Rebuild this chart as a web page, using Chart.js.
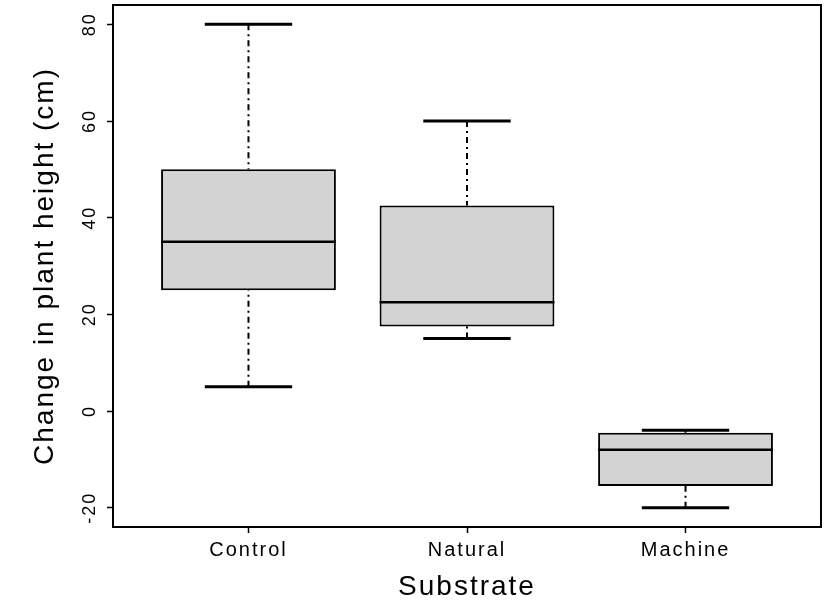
<!DOCTYPE html>
<html>
<head>
<meta charset="utf-8">
<script src="https://cdn.jsdelivr.net/npm/chart.js@4"></script>
<style>
  html, body { margin: 0; padding: 0; background: #fff; }
</style>
</head>
<body>
<canvas id="chartCanvas" width="833" height="606"></canvas>
<script>
// box plot summary per substrate
const substrates = ["Control", "Natural", "Machine"];
const whiskerLow = [5, 15, -20];
const quartile1 = [25, 17.5, -15.5];
const medians = [35, 22.5, -8];
const quartile3 = [50, 42.5, -4.5];
const whiskerHigh = [80, 60, -4];
const yTicks = [-20, 0, 20, 40, 60, 80];

const fontFamily = "'Liberation Sans', Arial, sans-serif";

// whiskers, staples, medians and the frame, all placed through the scales
const boxPlotLines = {
  id: "boxPlotLines",
  beforeUpdate(chart) {
    chart.ctx.letterSpacing = "2px";
  },
  beforeDraw(chart) {
    chart.ctx.letterSpacing = "2px";
  },
  afterDatasetsDraw(chart) {
    const { ctx } = chart;
    const x = chart.scales.x;
    const y = chart.scales.y;
    ctx.save();
    ctx.strokeStyle = "#000";
    ctx.lineCap = "butt";
    substrates.forEach((name, i) => {
      const pos = i + 1;
      const cx = x.getPixelForValue(pos);
      const capL = x.getPixelForValue(pos - 0.2);
      const capR = x.getPixelForValue(pos + 0.2);
      const boxL = x.getPixelForValue(pos - 0.4);
      const boxR = x.getPixelForValue(pos + 0.4);

      // dashed whiskers
      ctx.lineWidth = 2;
      ctx.setLineDash([6, 4, 2, 4]);
      ctx.beginPath();
      ctx.moveTo(cx, y.getPixelForValue(whiskerHigh[i]));
      ctx.lineTo(cx, y.getPixelForValue(quartile3[i]));
      ctx.moveTo(cx, y.getPixelForValue(whiskerLow[i]));
      ctx.lineTo(cx, y.getPixelForValue(quartile1[i]));
      ctx.stroke();
      ctx.setLineDash([]);

      // staples
      ctx.lineWidth = 3;
      ctx.beginPath();
      ctx.moveTo(capL, y.getPixelForValue(whiskerHigh[i]));
      ctx.lineTo(capR, y.getPixelForValue(whiskerHigh[i]));
      ctx.moveTo(capL, y.getPixelForValue(whiskerLow[i]));
      ctx.lineTo(capR, y.getPixelForValue(whiskerLow[i]));
      ctx.stroke();

      // median
      ctx.lineWidth = 2.5;
      ctx.beginPath();
      ctx.moveTo(boxL, y.getPixelForValue(medians[i]));
      ctx.lineTo(boxR, y.getPixelForValue(medians[i]));
      ctx.stroke();
    });
    ctx.restore();
  },
  afterDraw(chart) {
    const { ctx, chartArea: a } = chart;
    ctx.save();
    ctx.strokeStyle = "#000";
    ctx.lineWidth = 2;
    ctx.strokeRect(a.left, a.top, a.right - a.left, a.bottom - a.top);
    ctx.restore();
  },
};

const ctx = document.getElementById("chartCanvas").getContext("2d");

const chart = new Chart(ctx, {
  type: "bar",
  data: {
    datasets: [
      {
        data: substrates.map((s, i) => ({ x: i + 1, y: [quartile1[i], quartile3[i]] })),
        backgroundColor: "#d3d3d3",
        borderColor: "#000",
        borderWidth: 2,
        borderSkipped: false,
        categoryPercentage: 1,
        barPercentage: 0.8,
      },
    ],
  },
  options: {
    responsive: false,
    devicePixelRatio: 1,
    animation: false,
    layout: { padding: { top: 5, right: 12, left: 0, bottom: 0 } },
    plugins: {
      legend: { display: false },
      tooltip: { enabled: false },
    },
    scales: {
      x: {
        type: "linear",
        min: 0.38,
        max: 3.62,
        offset: false,
        afterBuildTicks: (scale) => {
          scale.ticks = substrates.map((s, i) => ({ value: i + 1 }));
        },
        afterFit: (scale) => {
          scale.height = 79;
          scale.paddingLeft = 0;
          scale.paddingRight = 0;
        },
        ticks: {
          callback: (v) => substrates[Math.round(v) - 1],
          color: "#000",
          padding: 5,
          maxRotation: 0,
          font: { family: fontFamily, size: 20 },
        },
        grid: {
          offset: false,
          drawOnChartArea: false,
          drawTicks: true,
          tickLength: 6,
          tickColor: "#000",
          tickWidth: 1.5,
        },
        border: { display: false },
        title: {
          display: true,
          text: "Substrate",
          color: "#000",
          padding: { top: 0, bottom: 2 },
          font: { family: fontFamily, size: 28 },
        },
      },
      y: {
        min: -24,
        max: 84,
        afterBuildTicks: (scale) => {
          scale.ticks = yTicks.map((v) => ({ value: v }));
        },
        afterFit: (scale) => {
          scale.width = 113;
          scale.paddingTop = 0;
          scale.paddingBottom = 0;
        },
        ticks: {
          color: "#000",
          minRotation: 90,
          maxRotation: 90,
          crossAlign: "center",
          padding: 1,
          font: { family: fontFamily, size: 18 },
        },
        grid: {
          drawOnChartArea: false,
          drawTicks: true,
          tickLength: 6,
          tickColor: "#000",
          tickWidth: 1.5,
        },
        border: { display: false },
        title: {
          display: true,
          text: "Change in plant height (cm)",
          color: "#000",
          padding: { top: 28, bottom: 0 },
          font: { family: fontFamily, size: 28 },
        },
      },
    },
  },
  plugins: [boxPlotLines],
});
</script>
</body>
</html>
